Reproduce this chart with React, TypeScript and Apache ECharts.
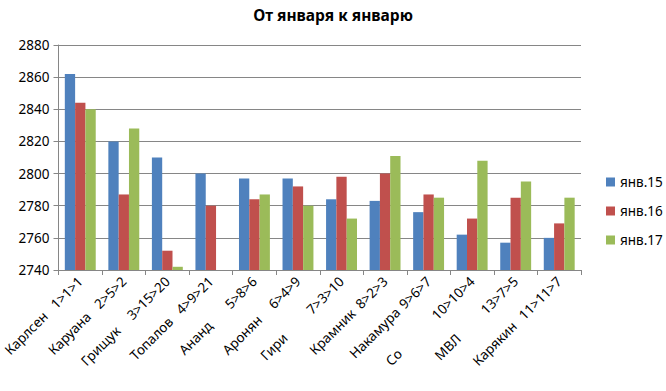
import React, { useEffect, useRef } from "react";
import * as echarts from "echarts";

const categories = [
  "Карлсен  1>1>1",
  "Каруана  2>5>2",
  "Грищук   3>15>20",
  "Топалов  4>9>21",
  "Ананд      5>8>6",
  "Аронян    6>4>9",
  "Гири       7>3>10",
  "Крамник  8>2>3",
  "Накамура 9>6>7",
  "Со          10>10>4",
  "МВЛ       13>7>5",
  "Карякин  11>11>7",
];

const jan15 = [2862, 2820, 2810, 2800, 2797, 2797, 2784, 2783, 2776, 2762, 2757, 2760];
const jan16 = [2844, 2787, 2752, 2780, 2784, 2792, 2798, 2800, 2787, 2772, 2785, 2769];
const jan17 = [2840, 2828, 2742, 2739, 2787, 2780, 2772, 2811, 2785, 2808, 2795, 2785];

const seriesNames = ["янв.15", "янв.16", "янв.17"];
const colors = ["#4F81BD", "#C0504D", "#9BBB59"];

const FONT = "Noto Sans";

export default function App() {
  const ref = useRef<HTMLDivElement>(null);
  useEffect(() => {
    if (!ref.current) return;
    const chart = echarts.init(ref.current, null, { renderer: "svg" });
    const data = [jan15, jan16, jan17];
    chart.setOption({
      animation: false,
      backgroundColor: "#ffffff",
      title: {
        text: "От января к январю",
        left: "center",
        top: 2,
        textStyle: { fontFamily: FONT, fontSize: 15.5, fontWeight: "bold", color: "#000" },
      },
      legend: {
        orient: "vertical",
        left: 606,
        top: 175,
        padding: 0,
        itemWidth: 9,
        itemHeight: 9,
        itemGap: 15,
        icon: "rect",
        textStyle: { fontFamily: FONT, fontSize: 13.5, color: "#000", lineHeight: 14 },
        data: seriesNames,
      },
      grid: { left: 57, right: 85, top: 45, bottom: 121, containLabel: false },
      xAxis: {
        type: "category",
        data: categories,
        axisLine: { lineStyle: { color: "#868686" } },
        axisTick: { show: true, length: 5, lineStyle: { color: "#868686" } },
        axisLabel: {
          rotate: 45,
          interval: 0,
          margin: 9,
          fontFamily: FONT,
          fontSize: 13.5,
          color: "#000",
          formatter: (v: string) => {
            const parts = v.trim().split(/\s+/);
            const key = parts[0].length >= 8 ? "m" : "n";
            return `{${key}|${parts[0]}}{s|${parts[parts.length - 1]}}`;
          },
          rich: {
            n: { fontFamily: FONT, fontSize: 13.5, color: "#000", width: 65, align: "left" },
            m: { fontFamily: FONT, fontSize: 13.5, color: "#000", width: 70, align: "left" },
            s: { fontFamily: FONT, fontSize: 13.5, color: "#000" },
          },
        },
      },
      yAxis: {
        type: "value",
        min: 2740,
        max: 2880,
        interval: 20,
        axisLine: { show: true, lineStyle: { color: "#868686" } },
        axisTick: { show: true, length: 5, lineStyle: { color: "#868686" } },
        axisLabel: {
          fontFamily: FONT,
          fontSize: 13.5,
          color: "#000",
          margin: 9,
          formatter: (v: number) => String(v),
        },
        splitLine: { lineStyle: { color: "#868686", width: 1 } },
      },
      series: data.map((d, i) => ({
        name: seriesNames[i],
        type: "bar",
        data: d,
        barGap: "0%",
        barCategoryGap: "29%",
        itemStyle: { color: colors[i] },
      })),
    });
    return () => chart.dispose();
  }, []);
  return <div ref={ref} style={{ width: 666, height: 391, position: "absolute", left: 0, top: 0 }} />;
}
